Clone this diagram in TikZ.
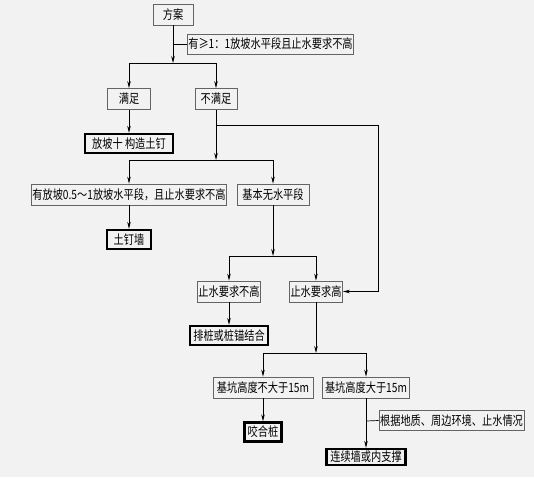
\documentclass[tikz,border=0pt]{standalone}
\usepackage{fontspec}
\setmainfont{Noto Sans CJK SC}
\usetikzlibrary{arrows.meta}
\definecolor{paper}{RGB}{242,242,242}
\definecolor{boxline}{RGB}{100,100,100}
\newcommand{\tall}[1]{\scalebox{1}[1.25]{#1}}

\begin{document}
\begin{tikzpicture}[->, >={Stealth[length=7pt,width=3.5pt]}, x=1pt, y=-1pt, line width=0.7pt]
        \tikzset{
            block/.style  = {draw=boxline, line width=0.8pt, rectangle, inner sep=1pt,
                             minimum height=21pt, font=\fontsize{10.2}{12}\selectfont},
            final/.style  = {block, draw=black, line width=2.4pt, minimum height=19pt},
            note/.style   = {block, minimum height=20pt},
            joint/.style  = {coordinate}
        }
        \fill[paper] (0,0) rectangle (534,477);
        \useasboundingbox (0,0) rectangle (534,477);

        \node[block, minimum width=40pt] (FA) at (173,14.5) {\tall{方案}};
        \node[note, minimum width=165pt] (NOTE1) at (270.5,44) {\tall{有≥1：1放坡水平段且止水要求不高}};
        \node[block, minimum width=43pt] (MZ) at (129,99) {\tall{满足}};
        \node[block, minimum width=42pt] (BMZ) at (216,99) {\tall{不满足}};
        \node[final, minimum width=88pt] (FP) at (129,143.5) {\tall{放坡十 构造土钉}};
        \node[block, minimum width=194pt] (YFP) at (129,194.5) {\tall{有放坡0.5～1放坡水平段，且止水要求不高}};
        \node[block, minimum width=72pt] (JB) at (273,194.5) {\tall{基本无水平段}};
        \node[final, minimum width=44pt] (TDQ) at (129,239.5) {\tall{土钉墙}};
        \node[block, minimum width=60pt] (ZBG) at (229,291.5) {\tall{止水要求不高}};
        \node[block, minimum width=52pt] (ZG) at (316,291.5) {\tall{止水要求高}};
        \node[final, minimum width=78pt] (PZ) at (229,335.5) {\tall{排桩或桩锚结合}};
        \node[block, minimum width=100pt] (JBD) at (263,387.5) {\tall{基坑高度不大于15m}};
        \node[block, minimum width=87pt] (JD) at (366,387.5) {\tall{基坑高度大于15m}};
        \node[final, minimum width=37pt] (YHZ) at (263,432) {\tall{咬合桩}};
        \node[note, minimum width=145pt] (NOTE2) at (451.5,420.5) {\tall{根据地质、周边环境、止水情况}};
        \node[final, minimum width=79pt, minimum height=16pt] (LXQ) at (366,457) {\tall{连续墙或内支撑}};

        \node[joint] (J1) at (173,63) {};
        \node[joint] (N1) at (173,44) {};
        \node[joint] (J2) at (216,160) {};
        \node[joint] (R1) at (216,125) {};
        \node[joint] (R2) at (378,125) {};
        \node[joint] (J3) at (273,256) {};
        \node[joint] (J4) at (316,353) {};
        \node[joint] (N2) at (366,421) {};

        % 方案
        \draw[->] (FA) -- (J1);
        \draw[-] (N1) -- (NOTE1.west);
        \draw[-] (MZ |- J1) -- (BMZ |- J1);
        \draw[->] (MZ |- J1) -- (MZ);
        \draw[->] (BMZ |- J1) -- (BMZ);
        \draw[->] (MZ) -- (FP);

        % 不满足
        \draw[->] (BMZ) -- (J2);
        \draw[-] (YFP |- J2) -- (JB |- J2);
        \draw[->] (YFP |- J2) -- (YFP);
        \draw[->] (JB |- J2) -- (JB);
        \draw[->] (YFP) -- (TDQ);
        \draw[->] (R1) -- (R2) |- (ZG);

        % 基本无水平段
        \draw[->] (JB) -- (J3);
        \draw[-] (ZBG |- J3) -- (ZG |- J3);
        \draw[->] (ZBG |- J3) -- (ZBG);
        \draw[->] (ZG |- J3) -- (ZG);
        \draw[->] (ZBG) -- (PZ);

        % 止水要求高
        \draw[->] (ZG) -- (J4);
        \draw[-] (JBD |- J4) -- (JD |- J4);
        \draw[->] (JBD |- J4) -- (JBD);
        \draw[->] (JD |- J4) -- (JD);
        \draw[->] (JBD) -- (YHZ);
        \draw[->] (JD) -- (LXQ);
        \draw[-] (N2) -- (NOTE2.west);
    \end{tikzpicture}
\end{document}
